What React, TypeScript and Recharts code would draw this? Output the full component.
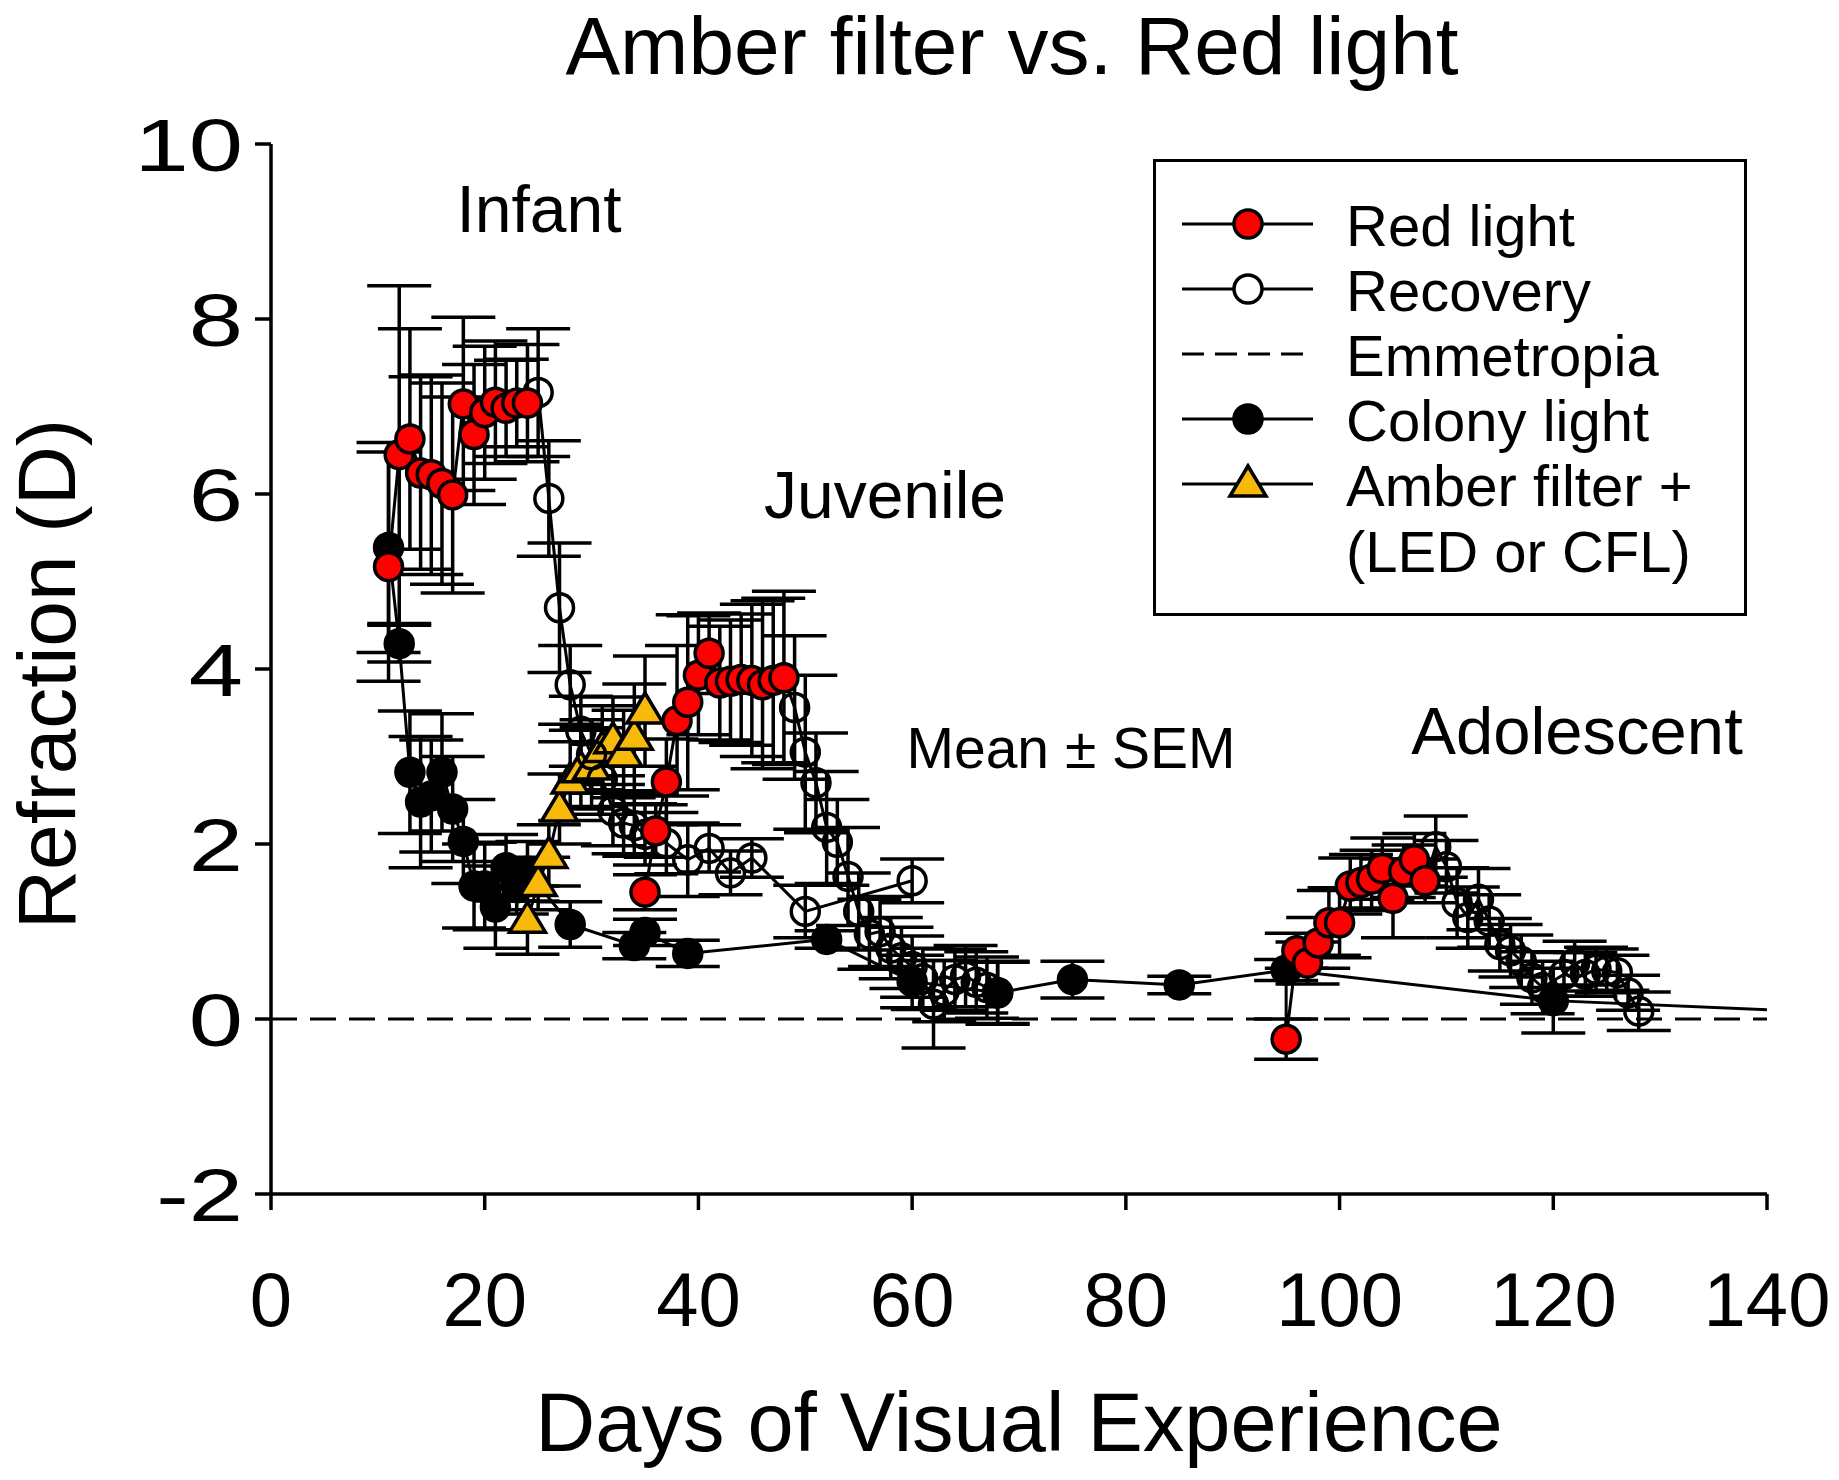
import React from "react";
import { ComposedChart, Line, XAxis, YAxis, ErrorBar, ReferenceLine, Legend } from "recharts";

const W = 1839;
const H = 1480;
const FONT = "'Liberation Sans', Arial, Helvetica, sans-serif";

// Red light: infant, juvenile, adolescent blocks
const red1Days = [11, 12, 13, 14, 15, 16, 17, 18, 19, 20, 21, 22, 23, 24];
const red1Vals = [5.17, 6.45, 6.63, 6.24, 6.22, 6.12, 5.99, 7.03, 6.68, 6.93, 7.05, 6.98, 7.04, 7.04];
const red1Err = [1.31, 1.93, 1.26, 1.1, 1.14, 1.15, 1.12, 0.99, 0.8, 0.76, 0.7, 0.55, 0.5, 0.67];

const red2Days = [35, 36, 37, 38, 39, 40, 41, 42, 43, 44, 45, 46, 47, 48];
const red2Vals = [1.45, 2.15, 2.71, 3.41, 3.62, 3.93, 4.18, 3.84, 3.86, 3.88, 3.87, 3.82, 3.87, 3.9];
const red2Err = [0.2, 0.3, 0.49, 0.86, 1.0, 0.68, 0.46, 0.65, 0.7, 0.75, 0.87, 0.96, 0.94, 0.99];

const red3Days = [95, 96, 97, 98, 99, 100, 101, 102, 103, 104, 105, 106, 107, 108];
const red3Vals = [-0.23, 0.78, 0.64, 0.87, 1.1, 1.1, 1.52, 1.56, 1.6, 1.72, 1.38, 1.69, 1.82, 1.58];
const red3Err = [0.23, 0.2, 0.24, 0.29, 0.37, 0.4, 0.32, 0.32, 0.33, 0.35, 0.45, 0.3, 0.3, 0.25];

// Recovery after each red light block
const rec1Days = [25, 26, 27, 28, 29, 30, 31, 32, 33, 34, 35, 37, 39, 41, 43, 45, 50, 60];
const rec1Vals = [7.16, 5.95, 4.7, 3.82, 3.29, 3.02, 2.74, 2.38, 2.24, 2.21, 2.11, 2.01, 1.82, 1.95, 1.67, 1.84, 1.23, 1.58];
const rec1Err = [0.73, 0.66, 0.74, 0.45, 0.4, 0.4, 0.4, 0.4, 0.35, 0.35, 0.35, 0.35, 0.42, 0.27, 0.25, 0.22, 0.3, 0.25];

const rec2Days = [49, 50, 51, 52, 53, 54, 55, 56, 57, 58, 59, 60, 61, 62, 63, 64, 65, 66, 67, 68];
const rec2Vals = [3.56, 3.05, 2.7, 2.19, 2.02, 1.63, 1.23, 0.97, 1.0, 0.81, 0.7, 0.6, 0.46, 0.17, 0.32, 0.45, 0.49, 0.42, 0.36, 0.3];
const rec2Err = [0.82, 0.88, 0.57, 0.64, 0.49, 0.56, 0.44, 0.4, 0.4, 0.35, 0.35, 0.35, 0.35, 0.5, 0.35, 0.35, 0.35, 0.35, 0.35, 0.35];

const rec3Days = [109, 110, 111, 112, 113, 114, 115, 116, 117, 118, 119, 121, 122, 123, 124, 125, 126, 127, 128];
const rec3Vals = [1.97, 1.74, 1.33, 1.16, 1.37, 1.12, 0.85, 0.78, 0.66, 0.47, 0.36, 0.51, 0.64, 0.51, 0.57, 0.55, 0.53, 0.3, 0.09];
const rec3Err = [0.35, 0.3, 0.4, 0.35, 0.35, 0.3, 0.3, 0.3, 0.3, 0.3, 0.3, 0.25, 0.25, 0.25, 0.25, 0.25, 0.2, 0.2, 0.22];

// Colony light (last point lies past the axis end)
const colonyDays = [11, 12, 13, 14, 15, 16, 17, 18, 19, 20, 21, 22, 23, 24, 28, 34, 35, 39, 52, 60, 68, 75, 85, 95, 120, 160];
const colonyVals = [5.39, 4.29, 2.82, 2.48, 2.55, 2.82, 2.4, 2.03, 1.52, 1.52, 1.28, 1.73, 1.5, 1.69, 1.08, 0.84, 0.99, 0.75, 0.91, 0.43, 0.3, 0.45, 0.39, 0.56, 0.21, 0.0];
const colonyErr = [1.2, 0.21, 0.7, 0.75, 0.64, 0.67, 0.6, 0.48, 0.48, 0.5, 0.47, 0.38, 0.3, 0.34, 0.26, 0.15, 0.15, 0.15, 0.1, 0.3, 0.36, 0.21, 0.1, 0.12, 0.37, 0];

// Amber filter + (LED or CFL)
const amberDays = [24, 25, 26, 27, 28, 29, 30, 31, 32, 33, 34, 35];
const amberVals = [1.13, 1.55, 1.87, 2.4, 2.72, 2.85, 2.88, 3.08, 3.18, 3.03, 3.22, 3.52];
const amberErr = [0.39, 0.3, 0.35, 0.4, 0.45, 0.45, 0.45, 0.5, 0.5, 0.5, 0.61, 0.63];

const xTicks = [0, 20, 40, 60, 80, 100, 120, 140];
const yTicks = [-2, 0, 2, 4, 6, 8, 10];
const legendLabels = ["Red light", "Recovery", "Emmetropia", "Colony light", "Amber filter +", "(LED or CFL)"];

type Pt = { day: number; v: number; e: number | null; link?: boolean };

const pts = (days: number[], vals: number[], errs: number[]): Pt[] =>
  days.map((d, i) => ({ day: d, v: vals[i], e: errs[i] }));

// prepend the point the segment grows out of, drawn as line only
const linked = (from: Pt, rest: Pt[]): Pt[] => [{ ...from, e: null, link: true }, ...rest];

const red1 = pts(red1Days, red1Vals, red1Err);
const red2 = pts(red2Days, red2Vals, red2Err);
const colony = pts(colonyDays, colonyVals, colonyErr);
const colony95 = colony[colonyDays.indexOf(95)];
const red3 = linked(colony95, pts(red3Days, red3Vals, red3Err));
const rec1 = linked(red1[red1.length - 1], pts(rec1Days, rec1Vals, rec1Err));
const rec2 = linked(red2[red2.length - 1], pts(rec2Days, rec2Vals, rec2Err));
const rec3 = linked(red3[red3.length - 1], pts(rec3Days, rec3Vals, rec3Err));
const amber = pts(amberDays, amberVals, amberErr);

const R = 14;
const LW = 3;

const circleDot = (fill: string) => (p: any) => {
  const { cx, cy, index, payload } = p;
  if (cx == null || cy == null || (payload && payload.link)) return <g key={`d${index}`} />;
  return <circle key={`d${index}`} cx={cx} cy={cy} r={R} fill={fill} stroke="#000" strokeWidth={3.5} />;
};

const triDot = (p: any) => {
  const { cx, cy, index } = p;
  if (cx == null || cy == null) return <g key={`t${index}`} />;
  const pts = `${cx},${cy - 18} ${cx - 18},${cy + 12} ${cx + 18},${cy + 12}`;
  return <polygon key={`t${index}`} points={pts} fill="#F7BA0B" stroke="#000" strokeWidth={3.5} />;
};

const YTick = (p: any) => {
  const { x, y, payload } = p;
  return (
    <text
      transform={`translate(${x},${y}) scale(1.3,1)`}
      textAnchor="end"
      dy="0.36em"
      fontSize={75}
      fontFamily={FONT}
      fill="#000"
    >
      {payload.value}
    </text>
  );
};

const bar = (
  <ErrorBar dataKey="e" width={32} strokeWidth={3.5} stroke="#000" direction="y" isAnimationActive={false} />
);

function LegendBox() {
  const rowY = [65, 130, 195, 260, 325, 391];
  const lx1 = 29, lx2 = 160, mx = 95, tx = 193;
  return (
    <svg width={594} height={457} style={{ display: "block" }}>
      <rect x={1.5} y={1.5} width={591} height={454} fill="#fff" stroke="#000" strokeWidth={3} />
      {[0, 1, 3, 4].map((i) => (
        <line key={`l${i}`} x1={lx1} x2={lx2} y1={rowY[i]} y2={rowY[i]} stroke="#000" strokeWidth={LW} />
      ))}
      <line x1={lx1} x2={lx2} y1={rowY[2]} y2={rowY[2]} stroke="#000" strokeWidth={LW} strokeDasharray="22 11" />
      <circle cx={mx} cy={rowY[0]} r={R} fill="#FF0000" stroke="#000" strokeWidth={3.5} />
      <circle cx={mx} cy={rowY[1]} r={R} fill="#fff" stroke="#000" strokeWidth={3.5} />
      <circle cx={mx} cy={rowY[3]} r={R} fill="#000" stroke="#000" strokeWidth={3.5} />
      <polygon
        points={`${mx},${rowY[4] - 18} ${mx - 18},${rowY[4] + 12} ${mx + 18},${rowY[4] + 12}`}
        fill="#F7BA0B"
        stroke="#000"
        strokeWidth={3.5}
      />
      {legendLabels.map((t, i) => (
        <text key={t} x={tx} y={rowY[i] + 22} fontSize={58} fontFamily={FONT} fill="#000">
          {t}
        </text>
      ))}
    </svg>
  );
}

export default function App() {
  return (
    <div style={{ position: "absolute", left: 0, top: 0, width: W, height: H, background: "#fff" }}>
      <style>{`.recharts-line line, .recharts-errorBar line, .recharts-errorBars line { stroke-width: 3.5px !important; stroke: #000 !important; }`}</style>
      <ComposedChart width={W} height={H} margin={{ top: 144, right: 72, bottom: 166, left: 121 }}>
        <XAxis
          dataKey="day"
          type="number"
          domain={[0, 140]}
          allowDataOverflow
          ticks={xTicks}
          interval={0}
          height={120}
          tickSize={16}
          tickMargin={62}
          axisLine={{ stroke: "#000", strokeWidth: 3.5 }}
          tickLine={{ stroke: "#000", strokeWidth: 3.5 }}
          tick={{ fill: "#000", fontSize: 76, fontFamily: FONT }}
        />
        <YAxis
          type="number"
          domain={[-2, 10]}
          allowDataOverflow
          ticks={yTicks}
          interval={0}
          width={150}
          tickSize={16}
          tickMargin={12}
          axisLine={{ stroke: "#000", strokeWidth: 3.5 }}
          tickLine={{ stroke: "#000", strokeWidth: 3.5 }}
          tick={<YTick />}
        />
        <ReferenceLine y={0} stroke="#000" strokeWidth={LW} strokeDasharray="26 13" />
        <Line data={colony} dataKey="v" stroke="#000" strokeWidth={LW} dot={circleDot("#000")} isAnimationActive={false} legendType="none">
          {bar}
        </Line>
        <Line data={amber} dataKey="v" stroke="#000" strokeWidth={LW} dot={triDot} isAnimationActive={false} legendType="none">
          {bar}
        </Line>
        <Line data={rec1} dataKey="v" stroke="#000" strokeWidth={LW} dot={circleDot("none")} isAnimationActive={false} legendType="none">
          {bar}
        </Line>
        <Line data={rec2} dataKey="v" stroke="#000" strokeWidth={LW} dot={circleDot("none")} isAnimationActive={false} legendType="none">
          {bar}
        </Line>
        <Line data={rec3} dataKey="v" stroke="#000" strokeWidth={LW} dot={circleDot("none")} isAnimationActive={false} legendType="none">
          {bar}
        </Line>
        <Line data={red1} dataKey="v" stroke="#000" strokeWidth={LW} dot={circleDot("#FF0000")} isAnimationActive={false} legendType="none">
          {bar}
        </Line>
        <Line data={red2} dataKey="v" stroke="#000" strokeWidth={LW} dot={circleDot("#FF0000")} isAnimationActive={false} legendType="none">
          {bar}
        </Line>
        <Line data={red3} dataKey="v" stroke="#000" strokeWidth={LW} dot={circleDot("#FF0000")} isAnimationActive={false} legendType="none">
          {bar}
        </Line>
        <Legend
          layout="vertical"
          align="center"
          verticalAlign="middle"
          content={() => <LegendBox />}
          wrapperStyle={{ position: "absolute", left: 1153, top: 159, width: 594, height: 457 }}
        />
      </ComposedChart>
      <svg width={W} height={H} style={{ position: "absolute", left: 0, top: 0, pointerEvents: "none" }} fontFamily={FONT} fill="#000">
        <text x={1012} y={74} fontSize={82} textAnchor="middle">Amber filter vs. Red light</text>
        <text x={1019} y={1451} fontSize={83} textAnchor="middle">Days of Visual Experience</text>
        <text transform="translate(75,674) rotate(-90)" fontSize={82} textAnchor="middle">Refraction (D)</text>
        <text x={539} y={232} fontSize={66} textAnchor="middle">Infant</text>
        <text x={885} y={518} fontSize={66} textAnchor="middle">Juvenile</text>
        <text x={1071} y={768} fontSize={57} textAnchor="middle">Mean ± SEM</text>
        <text x={1577} y={754} fontSize={67} textAnchor="middle">Adolescent</text>
      </svg>
    </div>
  );
}
